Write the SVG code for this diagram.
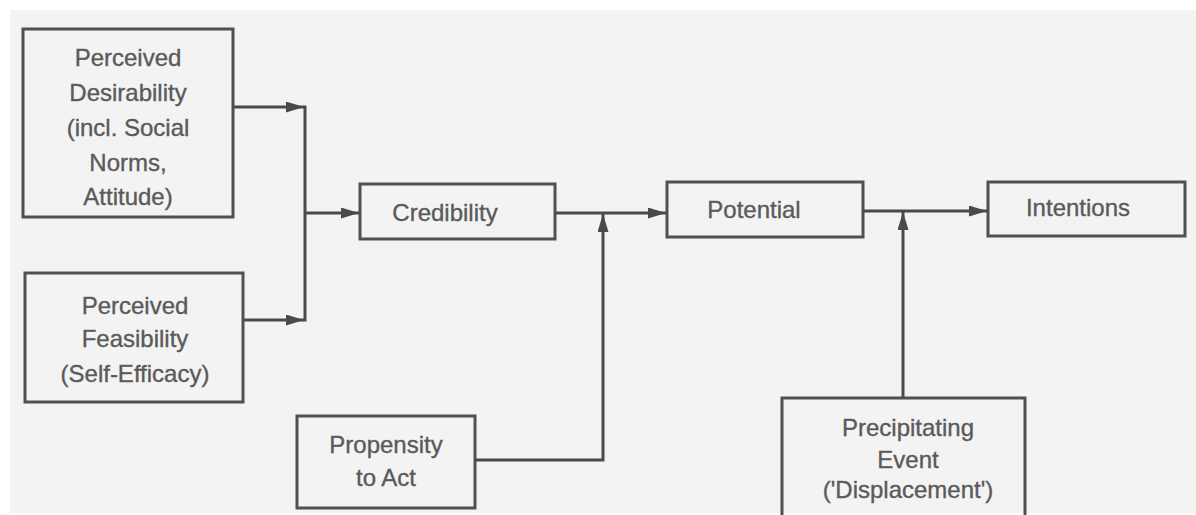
<svg xmlns="http://www.w3.org/2000/svg" width="1196" height="515" viewBox="0 0 1196 515">
  <style>
    .box { fill: none; stroke: #505050; stroke-width: 3; }
    .lbl { font-family: "Liberation Sans", Arial, sans-serif; font-size: 24px; fill: #5a5a5a; stroke: #5a5a5a; stroke-width: 0.35; text-anchor: middle; }
    .conn { fill: none; stroke: #4a4a4a; stroke-width: 3; }
  </style>
  <defs>
    <marker id="ah" markerUnits="userSpaceOnUse" markerWidth="20" markerHeight="12" refX="18" refY="5.5" orient="auto">
      <path d="M0,0 L18,5.5 L0,11 z" fill="#4a4a4a"/>
    </marker>
  </defs>
  <rect x="0" y="0" width="1196" height="515" fill="#ffffff"/>
  <rect x="10" y="10" width="1186" height="503" fill="#f3f3f3"/>

  <g id="desirability">
    <rect class="box" x="23" y="29" width="210" height="188"/>
    <text class="lbl" x="128" y="66">Perceived</text>
    <text class="lbl" x="128" y="101">Desirability</text>
    <text class="lbl" x="128" y="136">(incl. Social</text>
    <text class="lbl" x="128" y="171">Norms,</text>
    <text class="lbl" x="128" y="205">Attitude)</text>
  </g>

  <g id="feasibility">
    <rect class="box" x="25" y="273" width="218" height="129"/>
    <text class="lbl" x="135" y="314">Perceived</text>
    <text class="lbl" x="135" y="347">Feasibility</text>
    <text class="lbl" x="135" y="382">(Self-Efficacy)</text>
  </g>

  <g id="credibility">
    <rect class="box" x="360" y="184" width="195" height="55"/>
    <text class="lbl" x="445" y="221">Credibility</text>
  </g>

  <g id="propensity">
    <rect class="box" x="297" y="416" width="178" height="92"/>
    <text class="lbl" x="386" y="453">Propensity</text>
    <text class="lbl" x="386" y="486">to Act</text>
  </g>

  <g id="potential">
    <rect class="box" x="667" y="182" width="196" height="55"/>
    <text class="lbl" x="754" y="218">Potential</text>
  </g>

  <g id="intentions">
    <rect class="box" x="988" y="182" width="197" height="54"/>
    <text class="lbl" x="1078" y="216">Intentions</text>
  </g>

  <g id="precipitating">
    <rect class="box" x="782" y="398" width="243" height="130"/>
    <text class="lbl" x="908" y="436">Precipitating</text>
    <text class="lbl" x="908" y="468">Event</text>
    <text class="lbl" x="908" y="498">('Displacement')</text>
  </g>

  <g id="connectors">
    <path class="conn" d="M233,107 H304" marker-end="url(#ah)"/>
    <path class="conn" d="M243,320 H304" marker-end="url(#ah)"/>
    <path class="conn" d="M305,105.5 V321.5"/>
    <path class="conn" d="M305,213 H359" marker-end="url(#ah)"/>
    <path class="conn" d="M555,213 H666" marker-end="url(#ah)"/>
    <path class="conn" d="M475,460 H603 V214" marker-end="url(#ah)"/>
    <path class="conn" d="M863,211 H987" marker-end="url(#ah)"/>
    <path class="conn" d="M903,398 V212" marker-end="url(#ah)"/>
  </g>
</svg>
